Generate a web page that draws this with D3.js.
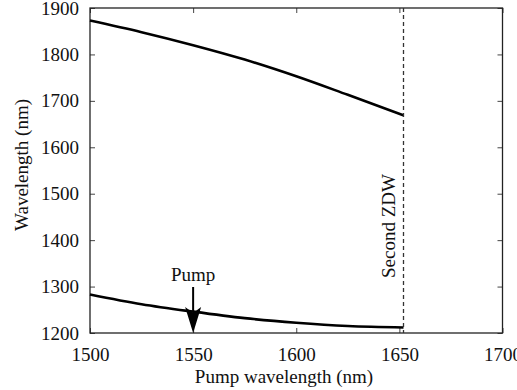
<!DOCTYPE html>
<html>
<head>
<meta charset="utf-8">
<script src="https://cdn.jsdelivr.net/npm/d3@7"></script>
<style>
  body { margin: 0; background: #fff; }
  svg text { font-family: "Liberation Serif", "Times New Roman", Times, "DejaVu Serif", serif !important; fill: #111; }
</style>
</head>
<body>
<script>
// Data
const pumpWl = [1500, 1525, 1550, 1575, 1600, 1625, 1652];
const idlerWl = [1873, 1848, 1820, 1789, 1753, 1713, 1669];
const signalWl = [1283, 1262, 1246, 1232, 1222, 1215, 1212];
const xTicks = [1500, 1550, 1600, 1650, 1700];
const yTicks = [1200, 1300, 1400, 1500, 1600, 1700, 1800, 1900];
const zdwWl = 1652;
const pumpMark = 1550;

const W = 517, H = 390;
const margin = {top: 8, right: 14.5, bottom: 57, left: 90};
const FONT = 19;
const SERIF = "'Liberation Serif', 'Times New Roman', Times, 'DejaVu Serif', serif";

const svg = d3.select("body").append("svg")
    .attr("width", W)
    .attr("height", H)
    .attr("font-family", SERIF);

const x = d3.scaleLinear().domain([1500, 1700]).range([margin.left, W - margin.right]);
const y = d3.scaleLinear().domain([1200, 1900]).range([H - margin.bottom, margin.top]);

// ----- Axes (MATLAB style box, ticks inward) -----
function styleAxis(g) {
    g.attr("font-family", SERIF).attr("font-size", FONT);
    g.select(".domain").remove();
    g.selectAll(".tick line").attr("stroke", "#444").attr("stroke-width", 1);
    g.selectAll(".tick text").attr("font-size", FONT).attr("font-family", SERIF);
}

svg.append("g")
    .attr("transform", `translate(0,${y.range()[0]})`)
    .call(d3.axisBottom(x).tickValues(xTicks).tickSize(-5).tickPadding(15).tickFormat(d3.format("d")))
    .call(styleAxis);

svg.append("g")
    .attr("transform", `translate(${x.range()[0]},0)`)
    .call(d3.axisLeft(y).tickValues(yTicks).tickSize(-5).tickPadding(11).tickFormat(d3.format("d")))
    .call(styleAxis);

svg.append("g")
    .attr("transform", `translate(0,${y.range()[1]})`)
    .call(d3.axisTop(x).tickValues(xTicks).tickSize(-5).tickFormat(""))
    .call(styleAxis);

svg.append("g")
    .attr("transform", `translate(${x.range()[1]},0)`)
    .call(d3.axisRight(y).tickValues(yTicks).tickSize(-5).tickFormat(""))
    .call(styleAxis);

svg.append("rect")
    .attr("x", x.range()[0])
    .attr("y", y.range()[1])
    .attr("width", x.range()[1] - x.range()[0])
    .attr("height", y.range()[0] - y.range()[1])
    .attr("fill", "none")
    .attr("stroke", "#222")
    .attr("stroke-width", 1.3);

// ----- Curves -----
const line = d3.line()
    .x(d => x(d[0]))
    .y(d => y(d[1]))
    .curve(d3.curveMonotoneX);

[idlerWl, signalWl].forEach(series => {
    svg.append("path")
        .datum(d3.zip(pumpWl, series))
        .attr("d", line)
        .attr("fill", "none")
        .attr("stroke", "#000")
        .attr("stroke-width", 2.6);
});

// ----- Second ZDW -----
svg.append("line")
    .attr("x1", x(zdwWl)).attr("x2", x(zdwWl))
    .attr("y1", y.range()[1]).attr("y2", y.range()[0])
    .attr("stroke", "#333")
    .attr("stroke-width", 1.3)
    .attr("stroke-dasharray", "4,3");

svg.append("text")
    .attr("transform", `translate(${x(zdwWl) - 9},226) rotate(-90)`)
    .attr("text-anchor", "middle")
    .attr("font-size", FONT)
    .text("Second ZDW");

// ----- Pump arrow -----
const arrowX = x(pumpMark);
svg.append("line")
    .attr("x1", arrowX).attr("x2", arrowX)
    .attr("y1", 287).attr("y2", 312)
    .attr("stroke", "#000")
    .attr("stroke-width", 2);
svg.append("path")
    .attr("d", `M${arrowX - 8},307 L${arrowX},${y(1200)} L${arrowX + 8},307 L${arrowX},313 Z`)
    .attr("fill", "#000");
svg.append("text")
    .attr("x", arrowX)
    .attr("y", 281)
    .attr("text-anchor", "middle")
    .attr("font-size", FONT)
    .text("Pump");

// ----- Axis titles -----
svg.append("text")
    .attr("x", 284)
    .attr("y", 383)
    .attr("text-anchor", "middle")
    .attr("font-size", FONT)
    .text("Pump wavelength (nm)");

svg.append("text")
    .attr("transform", "translate(28,165) rotate(-90)")
    .attr("text-anchor", "middle")
    .attr("font-size", FONT)
    .text("Wavelength (nm)");
</script>
</body>
</html>
